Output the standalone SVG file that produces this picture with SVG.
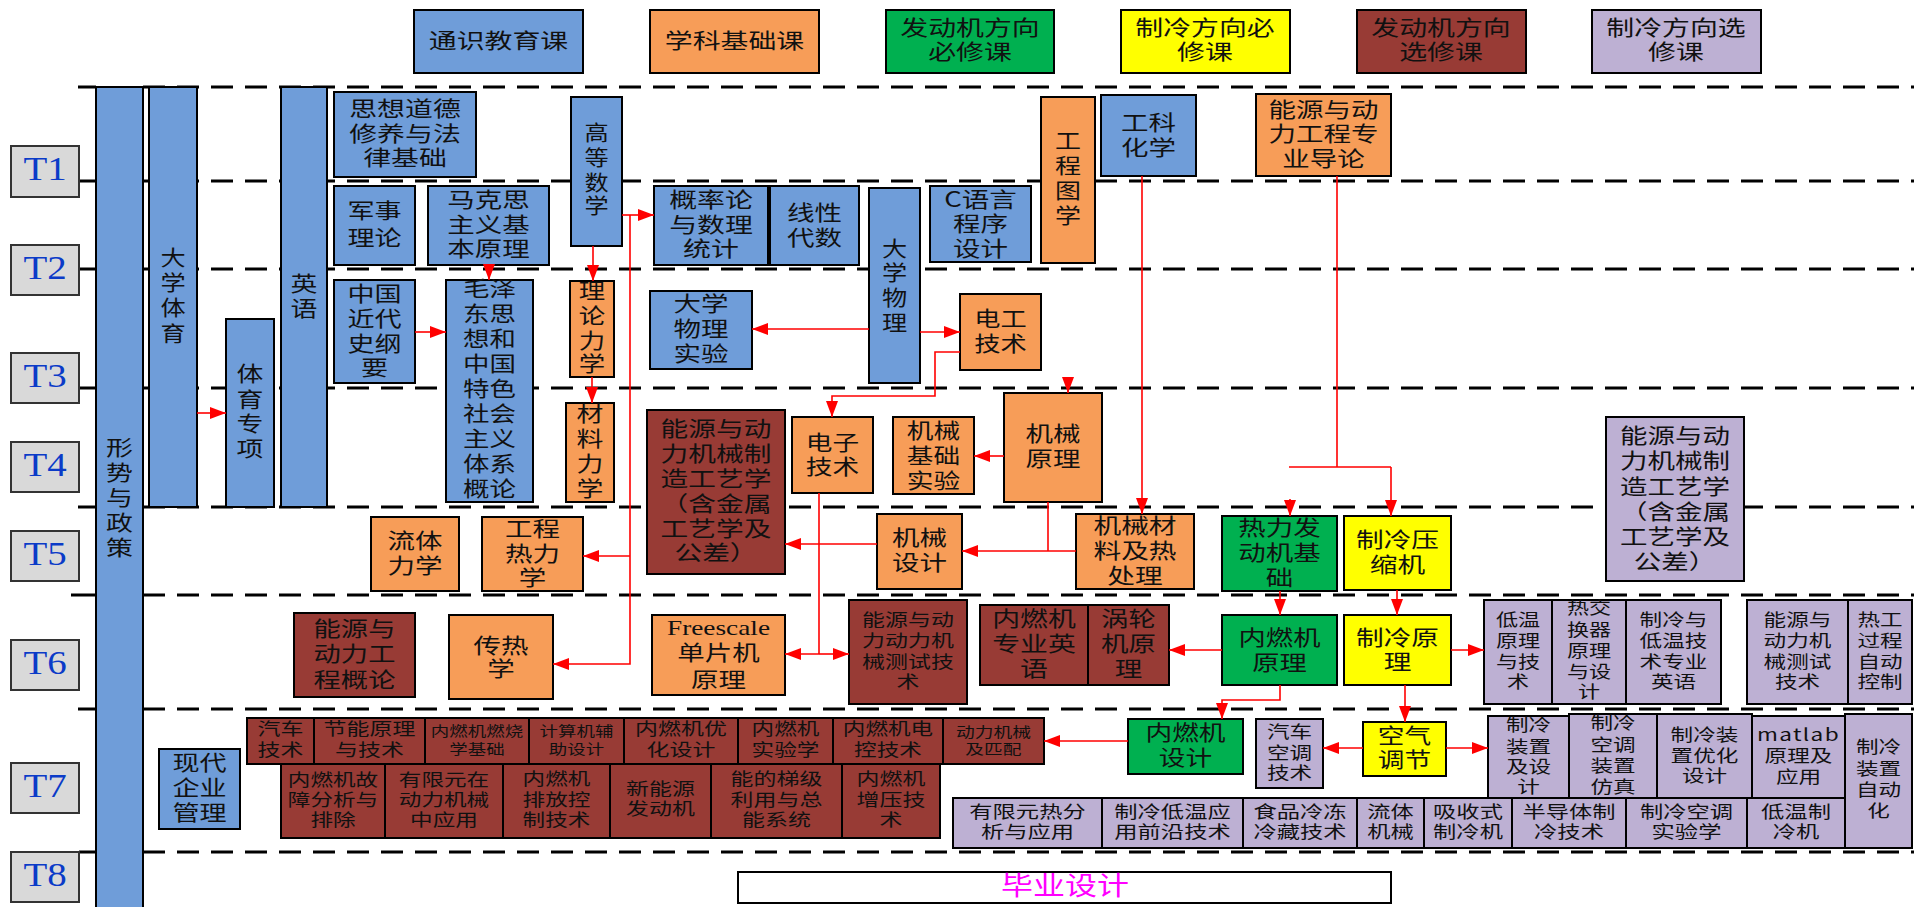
<svg xmlns="http://www.w3.org/2000/svg" width="1914" height="907" viewBox="0 0 1914 907">
<style>
rect{stroke:#000;stroke-width:2}
.bl{fill:#6F9DD9}.or{fill:#F79D58}.gr{fill:#00B050}.ye{fill:#FFFF00}.br{fill:#983B35}.lv{fill:#BDB0D3}.gy{fill:#D9D9D9;stroke:#333}.wh{fill:#fff}
text{font-family:"Noto Sans CJK SC","Noto Sans",sans-serif;fill:#111;text-anchor:middle}
.f21{font-size:21px}.f17{font-size:17px}.f14{font-size:14px}
.tl{font-family:"Liberation Serif",serif;font-size:33px;fill:#0B3BC8}
.fs{font-family:"Liberation Serif",serif;font-size:21px}
.dash{stroke:#000;stroke-width:3;stroke-dasharray:22 12;fill:none}
.sol{stroke:#000;stroke-width:3;fill:none}
.cn{stroke:#FF0000;stroke-width:1.6;fill:none;marker-end:url(#ah)}
.cl{stroke:#FF0000;stroke-width:1.6;fill:none}
</style>
<defs>
<marker id="ah" viewBox="0 0 16 12" markerWidth="16" markerHeight="12" markerUnits="userSpaceOnUse" refX="16" refY="6" orient="auto"><path d="M0,0 L16,6 L0,12 z" fill="#FF0000"/></marker>
</defs>
<g id="gridlines">
<path class="dash" d="M143,87H1914M143,181H1914M143,269H1914M143,388H1914M143,507H1914M143,595H1914M143,709H1914M143,852H1914"/>
<path class="sol" d="M78,87H96M79,181H96M79,269H96M79,388H96M78,507H96M71,595H96M78,709H96M79,852H96"/>
</g>
<g id="legend">
<g id="leg1"><rect class="bl" x="414" y="10" width="169" height="63"/><text class="f21" transform="translate(498.5 0) scale(1.33 1)"><tspan x="0" y="48">通识教育课</tspan></text></g>
<g id="leg2"><rect class="or" x="650" y="10" width="169" height="63"/><text class="f21" transform="translate(734.5 0) scale(1.33 1)"><tspan x="0" y="48">学科基础课</tspan></text></g>
<g id="leg3"><rect class="gr" x="886" y="10" width="168" height="63"/><text class="f21" transform="translate(970 0) scale(1.33 1)"><tspan x="0" y="35">发动机方向</tspan><tspan x="0" y="59">必修课</tspan></text></g>
<g id="leg4"><rect class="ye" x="1121" y="10" width="169" height="63"/><text class="f21" transform="translate(1205 0) scale(1.33 1)"><tspan x="0" y="35">制冷方向必</tspan><tspan x="0" y="59">修课</tspan></text></g>
<g id="leg5"><rect class="br" x="1357" y="10" width="169" height="63"/><text class="f21" transform="translate(1441 0) scale(1.33 1)"><tspan x="0" y="35">发动机方向</tspan><tspan x="0" y="59">选修课</tspan></text></g>
<g id="leg6"><rect class="lv" x="1592" y="10" width="169" height="63"/><text class="f21" transform="translate(1676 0) scale(1.33 1)"><tspan x="0" y="35">制冷方向选</tspan><tspan x="0" y="59">修课</tspan></text></g>
</g>
<g id="terms">
<g id="T1"><rect class="gy" x="11" y="146" width="68" height="51"/><text class="tl" transform="translate(45 0) scale(1.18 1)"><tspan x="0" y="180">T1</tspan></text></g>
<g id="T2"><rect class="gy" x="11" y="245" width="68" height="50"/><text class="tl" transform="translate(45 0) scale(1.18 1)"><tspan x="0" y="279">T2</tspan></text></g>
<g id="T3"><rect class="gy" x="11" y="353" width="68" height="50"/><text class="tl" transform="translate(45 0) scale(1.18 1)"><tspan x="0" y="387">T3</tspan></text></g>
<g id="T4"><rect class="gy" x="11" y="442" width="68" height="50"/><text class="tl" transform="translate(45 0) scale(1.18 1)"><tspan x="0" y="476">T4</tspan></text></g>
<g id="T5"><rect class="gy" x="11" y="531" width="68" height="50"/><text class="tl" transform="translate(45 0) scale(1.18 1)"><tspan x="0" y="565">T5</tspan></text></g>
<g id="T6"><rect class="gy" x="11" y="640" width="68" height="50"/><text class="tl" transform="translate(45 0) scale(1.18 1)"><tspan x="0" y="674">T6</tspan></text></g>
<g id="T7"><rect class="gy" x="11" y="763" width="68" height="50"/><text class="tl" transform="translate(45 0) scale(1.18 1)"><tspan x="0" y="797">T7</tspan></text></g>
<g id="T8"><rect class="gy" x="11" y="852" width="68" height="50"/><text class="tl" transform="translate(45 0) scale(1.18 1)"><tspan x="0" y="886">T8</tspan></text></g>
</g>
<g id="nodes">
<g id="n-xszc"><rect class="bl" x="96" y="87" width="47" height="830"/><text class="f21" transform="translate(119.5 0) scale(1.28 1)"><tspan x="0" y="455">形</tspan><tspan x="0" y="480">势</tspan><tspan x="0" y="505">与</tspan><tspan x="0" y="530">政</tspan><tspan x="0" y="555">策</tspan></text></g>
<g id="n-dxty"><rect class="bl" x="149" y="87" width="48" height="420"/><text class="f21" transform="translate(173 0) scale(1.2 1)"><tspan x="0" y="265">大</tspan><tspan x="0" y="290">学</tspan><tspan x="0" y="315">体</tspan><tspan x="0" y="341">育</tspan></text></g>
<g id="n-tyzx"><rect class="bl" x="226" y="319" width="48" height="188"/><text class="f21" transform="translate(250 0) scale(1.28 1)"><tspan x="0" y="381">体</tspan><tspan x="0" y="407">育</tspan><tspan x="0" y="431">专</tspan><tspan x="0" y="456">项</tspan></text></g>
<g id="n-yy"><rect class="bl" x="281" y="87" width="46" height="420"/><text class="f21" transform="translate(304 0) scale(1.28 1)"><tspan x="0" y="291">英</tspan><tspan x="0" y="316">语</tspan></text></g>
<g id="n-sxdd"><rect class="bl" x="334" y="92" width="142" height="85"/><text class="f21" transform="translate(405 0) scale(1.33 1)"><tspan x="0" y="116">思想道德</tspan><tspan x="0" y="141">修养与法</tspan><tspan x="0" y="165">律基础</tspan></text></g>
<g id="n-jsll"><rect class="bl" x="334" y="186" width="81" height="79"/><text class="f21" transform="translate(374.5 0) scale(1.29 1)"><tspan x="0" y="218">军事</tspan><tspan x="0" y="245">理论</tspan></text></g>
<g id="n-mks"><rect class="bl" x="428" y="186" width="121" height="79"/><text class="f21" transform="translate(488.5 0) scale(1.31 1)"><tspan x="0" y="207">马克思</tspan><tspan x="0" y="232">主义基</tspan><tspan x="0" y="256">本原理</tspan></text></g>
<g id="n-zgjd"><rect class="bl" x="334" y="280" width="81" height="103"/><text class="f21" transform="translate(374.5 0) scale(1.29 1)"><tspan x="0" y="301">中国</tspan><tspan x="0" y="326">近代</tspan><tspan x="0" y="351">史纲</tspan><tspan x="0" y="375">要</tspan></text></g>
<g id="n-mzd"><rect class="bl" x="446" y="280" width="87" height="222"/><text class="f21" transform="translate(489.5 0) scale(1.26 1)"><tspan x="0" y="296">毛泽</tspan><tspan x="0" y="321">东思</tspan><tspan x="0" y="346">想和</tspan><tspan x="0" y="371">中国</tspan><tspan x="0" y="396">特色</tspan><tspan x="0" y="421">社会</tspan><tspan x="0" y="446">主义</tspan><tspan x="0" y="471">体系</tspan><tspan x="0" y="496">概论</tspan></text></g>
<g id="n-gdsx"><rect class="bl" x="571" y="97" width="51" height="149"/><text class="f21" transform="translate(596.5 0) scale(1.15 1)"><tspan x="0" y="140">高</tspan><tspan x="0" y="165">等</tspan><tspan x="0" y="190">数</tspan><tspan x="0" y="213">学</tspan></text></g>
<g id="n-gll"><rect class="bl" x="654" y="186" width="114" height="79"/><text class="f21" transform="translate(711 0) scale(1.33 1)"><tspan x="0" y="207">概率论</tspan><tspan x="0" y="232">与数理</tspan><tspan x="0" y="256">统计</tspan></text></g>
<g id="n-xxds"><rect class="bl" x="770" y="186" width="89" height="79"/><text class="f21" transform="translate(814.5 0) scale(1.31 1)"><tspan x="0" y="220">线性</tspan><tspan x="0" y="245">代数</tspan></text></g>
<g id="n-dxwl"><rect class="bl" x="869" y="188" width="51" height="195"/><text class="f21" transform="translate(894.5 0) scale(1.2 1)"><tspan x="0" y="256">大</tspan><tspan x="0" y="280">学</tspan><tspan x="0" y="305">物</tspan><tspan x="0" y="330">理</tspan></text></g>
<g id="n-cyy"><rect class="bl" x="930" y="186" width="101" height="76"/><text class="f21" transform="translate(980.5 0) scale(1.31 1)"><tspan x="0" y="207">C语言</tspan><tspan x="0" y="231">程序</tspan><tspan x="0" y="256">设计</tspan></text></g>
<g id="n-dxwlsy"><rect class="bl" x="650" y="291" width="102" height="78"/><text class="f21" transform="translate(701 0) scale(1.31 1)"><tspan x="0" y="311">大学</tspan><tspan x="0" y="336">物理</tspan><tspan x="0" y="361">实验</tspan></text></g>
<g id="n-gkhx"><rect class="bl" x="1101" y="95" width="95" height="81"/><text class="f21" transform="translate(1148.5 0) scale(1.31 1)"><tspan x="0" y="130">工科</tspan><tspan x="0" y="155">化学</tspan></text></g>
<g id="n-xdqy"><rect class="bl" x="159" y="749" width="81" height="80"/><text class="f21" transform="translate(199.5 0) scale(1.29 1)"><tspan x="0" y="770">现代</tspan><tspan x="0" y="795">企业</tspan><tspan x="0" y="820">管理</tspan></text></g>
<g id="n-llxl"><rect class="or" x="570" y="281" width="44" height="96"/><text class="f21" transform="translate(592 0) scale(1.26 1)"><tspan x="0" y="298">理</tspan><tspan x="0" y="323">论</tspan><tspan x="0" y="348">力</tspan><tspan x="0" y="371">学</tspan></text></g>
<g id="n-clxl"><rect class="or" x="566" y="403" width="48" height="99"/><text class="f21" transform="translate(590 0) scale(1.28 1)"><tspan x="0" y="421">材</tspan><tspan x="0" y="446">料</tspan><tspan x="0" y="471">力</tspan><tspan x="0" y="496">学</tspan></text></g>
<g id="n-gctx"><rect class="or" x="1041" y="97" width="54" height="166"/><text class="f21" transform="translate(1068 0) scale(1.24 1)"><tspan x="0" y="148">工</tspan><tspan x="0" y="173">程</tspan><tspan x="0" y="198">图</tspan><tspan x="0" y="223">学</tspan></text></g>
<g id="n-zydl"><rect class="or" x="1256" y="94" width="135" height="82"/><text class="f21" transform="translate(1323.5 0) scale(1.31 1)"><tspan x="0" y="117">能源与动</tspan><tspan x="0" y="141">力工程专</tspan><tspan x="0" y="166">业导论</tspan></text></g>
<g id="n-dgjs"><rect class="or" x="960" y="294" width="81" height="76"/><text class="f21" transform="translate(1000.5 0) scale(1.25 1)"><tspan x="0" y="326">电工</tspan><tspan x="0" y="351">技术</tspan></text></g>
<g id="n-dzjs"><rect class="or" x="792" y="417" width="81" height="76"/><text class="f21" transform="translate(832.5 0) scale(1.27 1)"><tspan x="0" y="450">电子</tspan><tspan x="0" y="474">技术</tspan></text></g>
<g id="n-jcsy"><rect class="or" x="893" y="417" width="81" height="77"/><text class="f21" transform="translate(933.5 0) scale(1.27 1)"><tspan x="0" y="438">机械</tspan><tspan x="0" y="463">基础</tspan><tspan x="0" y="488">实验</tspan></text></g>
<g id="n-jxyl"><rect class="or" x="1004" y="393" width="98" height="109"/><text class="f21" transform="translate(1053 0) scale(1.31 1)"><tspan x="0" y="441">机械</tspan><tspan x="0" y="466">原理</tspan></text></g>
<g id="n-ltlx"><rect class="or" x="371" y="517" width="88" height="74"/><text class="f21" transform="translate(415 0) scale(1.31 1)"><tspan x="0" y="548">流体</tspan><tspan x="0" y="573">力学</tspan></text></g>
<g id="n-gcrlx"><rect class="or" x="482" y="517" width="101" height="74"/><text class="f21" transform="translate(532.5 0) scale(1.31 1)"><tspan x="0" y="536">工程</tspan><tspan x="0" y="561">热力</tspan><tspan x="0" y="585">学</tspan></text></g>
<g id="n-jxsj"><rect class="or" x="877" y="514" width="85" height="75"/><text class="f21" transform="translate(919.5 0) scale(1.31 1)"><tspan x="0" y="545">机械</tspan><tspan x="0" y="570">设计</tspan></text></g>
<g id="n-jxcl"><rect class="or" x="1076" y="514" width="118" height="75"/><text class="f21" transform="translate(1135 0) scale(1.32 1)"><tspan x="0" y="533">机械材</tspan><tspan x="0" y="558">料及热</tspan><tspan x="0" y="583">处理</tspan></text></g>
<g id="n-crx"><rect class="or" x="449" y="615" width="104" height="84"/><text class="f21" transform="translate(501 0) scale(1.31 1)"><tspan x="0" y="653">传热</tspan><tspan x="0" y="676">学</tspan></text></g>
<g id="n-fsc"><rect class="or" x="652" y="615" width="133" height="80"/><text class="fs" transform="translate(718.5 0) scale(1.3 1)"><tspan x="0" y="635">Freescale</tspan></text><text class="f21" transform="translate(718.5 0) scale(1.31 1)"><tspan x="0" y="660">单片机</tspan><tspan x="0" y="687">原理</tspan></text></g>
<g id="n-rlfdj"><rect class="gr" x="1222" y="516" width="115" height="75"/><text class="f21" transform="translate(1279.5 0) scale(1.31 1)"><tspan x="0" y="535">热力发</tspan><tspan x="0" y="560">动机基</tspan><tspan x="0" y="585">础</tspan></text></g>
<g id="n-nrjyl"><rect class="gr" x="1222" y="615" width="115" height="70"/><text class="f21" transform="translate(1279.5 0) scale(1.3 1)"><tspan x="0" y="645">内燃机</tspan><tspan x="0" y="670">原理</tspan></text></g>
<g id="n-nrjsj"><rect class="gr" x="1128" y="719" width="115" height="55"/><text class="f21" transform="translate(1185.5 0) scale(1.27 1)"><tspan x="0" y="740">内燃机</tspan><tspan x="0" y="765">设计</tspan></text></g>
<g id="n-zlysj"><rect class="ye" x="1344" y="516" width="107" height="74"/><text class="f21" transform="translate(1397.5 0) scale(1.32 1)"><tspan x="0" y="547">制冷压</tspan><tspan x="0" y="572">缩机</tspan></text></g>
<g id="n-zlyl"><rect class="ye" x="1344" y="615" width="107" height="70"/><text class="f21" transform="translate(1397.5 0) scale(1.32 1)"><tspan x="0" y="645">制冷原</tspan><tspan x="0" y="669">理</tspan></text></g>
<g id="n-kqtj"><rect class="ye" x="1363" y="722" width="83" height="54"/><text class="f21" transform="translate(1404.5 0) scale(1.27 1)"><tspan x="0" y="743">空气</tspan><tspan x="0" y="767">调节</tspan></text></g>
<g id="n-zzgy1"><rect class="br" x="647" y="410" width="138" height="164"/><text class="f21" transform="translate(716 0) scale(1.32 1)"><tspan x="0" y="436">能源与动</tspan><tspan x="0" y="461">力机械制</tspan><tspan x="0" y="486">造工艺学</tspan><tspan x="0" y="511">（含金属</tspan><tspan x="0" y="536">工艺学及</tspan><tspan x="0" y="560">公差）</tspan></text></g>
<g id="n-zzgy2"><rect class="lv" x="1606" y="417" width="138" height="164"/><text class="f21" transform="translate(1675 0) scale(1.31 1)"><tspan x="0" y="443">能源与动</tspan><tspan x="0" y="468">力机械制</tspan><tspan x="0" y="494">造工艺学</tspan><tspan x="0" y="519">（含金属</tspan><tspan x="0" y="544">工艺学及</tspan><tspan x="0" y="569">公差）</tspan></text></g>
<g id="n-nydlgc"><rect class="br" x="294" y="613" width="121" height="84"/><text class="f21" transform="translate(354.5 0) scale(1.3 1)"><tspan x="0" y="636">能源与</tspan><tspan x="0" y="661">动力工</tspan><tspan x="0" y="687">程概论</tspan></text></g>
<g id="n-nycs"><rect class="br" x="849" y="600" width="118" height="104"/><text class="f17" transform="translate(908 0) scale(1.35 1)"><tspan x="0" y="626">能源与动</tspan><tspan x="0" y="647">力动力机</tspan><tspan x="0" y="668">械测试技</tspan><tspan x="0" y="688">术</tspan></text></g>
<g id="n-nrjzy"><rect class="br" x="980" y="605" width="108" height="80"/><text class="f21" transform="translate(1034 0) scale(1.33 1)"><tspan x="0" y="626">内燃机</tspan><tspan x="0" y="651">专业英</tspan><tspan x="0" y="676">语</tspan></text></g>
<g id="n-wljyl"><rect class="br" x="1088" y="605" width="81" height="80"/><text class="f21" transform="translate(1128.5 0) scale(1.31 1)"><tspan x="0" y="626">涡轮</tspan><tspan x="0" y="651">机原</tspan><tspan x="0" y="676">理</tspan></text></g>
<g id="n-dwyl"><rect class="lv" x="1484" y="600" width="68" height="104"/><text class="f17" transform="translate(1518 0) scale(1.3 1)"><tspan x="0" y="626">低温</tspan><tspan x="0" y="647">原理</tspan><tspan x="0" y="668">与技</tspan><tspan x="0" y="688">术</tspan></text></g>
<g id="n-rjhq"><rect class="lv" x="1552" y="600" width="74" height="104"/><text class="f17" transform="translate(1589 0) scale(1.3 1)"><tspan x="0" y="614">热交</tspan><tspan x="0" y="636">换器</tspan><tspan x="0" y="657">原理</tspan><tspan x="0" y="678">与设</tspan><tspan x="0" y="698">计</tspan></text></g>
<g id="n-zlydw"><rect class="lv" x="1626" y="600" width="95" height="104"/><text class="f17" transform="translate(1673.5 0) scale(1.33 1)"><tspan x="0" y="626">制冷与</tspan><tspan x="0" y="647">低温技</tspan><tspan x="0" y="668">术专业</tspan><tspan x="0" y="688">英语</tspan></text></g>
<g id="n-nydlcs"><rect class="lv" x="1747" y="600" width="101" height="104"/><text class="f17" transform="translate(1797.5 0) scale(1.33 1)"><tspan x="0" y="626">能源与</tspan><tspan x="0" y="647">动力机</tspan><tspan x="0" y="668">械测试</tspan><tspan x="0" y="688">技术</tspan></text></g>
<g id="n-rggc"><rect class="lv" x="1848" y="600" width="64" height="104"/><text class="f17" transform="translate(1880 0) scale(1.33 1)"><tspan x="0" y="626">热工</tspan><tspan x="0" y="647">过程</tspan><tspan x="0" y="668">自动</tspan><tspan x="0" y="688">控制</tspan></text></g>
<g id="n-qckt"><rect class="lv" x="1256" y="719" width="67" height="69"/><text class="f17" transform="translate(1289.5 0) scale(1.33 1)"><tspan x="0" y="738">汽车</tspan><tspan x="0" y="759">空调</tspan><tspan x="0" y="779">技术</tspan></text></g>
<g id="n-zlzzsj"><rect class="lv" x="1488" y="716" width="81" height="82"/><text class="f17" transform="translate(1528.5 0) scale(1.33 1)"><tspan x="0" y="731">制冷</tspan><tspan x="0" y="753">装置</tspan><tspan x="0" y="773">及设</tspan><tspan x="0" y="793">计</tspan></text></g>
<g id="n-zlktfz"><rect class="lv" x="1569" y="714" width="88" height="84"/><text class="f17" transform="translate(1613 0) scale(1.33 1)"><tspan x="0" y="729">制冷</tspan><tspan x="0" y="751">空调</tspan><tspan x="0" y="772">装置</tspan><tspan x="0" y="793">仿真</tspan></text></g>
<g id="n-zlzzyh"><rect class="lv" x="1657" y="714" width="95" height="84"/><text class="f17" transform="translate(1704.5 0) scale(1.33 1)"><tspan x="0" y="741">制冷装</tspan><tspan x="0" y="762">置优化</tspan><tspan x="0" y="782">设计</tspan></text></g>
<g id="n-matlab"><rect class="lv" x="1752" y="716" width="93" height="82"/><text class="f17" transform="translate(1798.5 0) scale(1.33 1)"><tspan x="0" y="741" letter-spacing="1">matlab</tspan><tspan x="0" y="762">原理及</tspan><tspan x="0" y="783">应用</tspan></text></g>
<g id="n-zlzzzdh"><rect class="lv" x="1845" y="714" width="67" height="134"/><text class="f17" transform="translate(1878.5 0) scale(1.33 1)"><tspan x="0" y="753">制冷</tspan><tspan x="0" y="775">装置</tspan><tspan x="0" y="796">自动</tspan><tspan x="0" y="817">化</tspan></text></g>
<g id="n-yxyrfx"><rect class="lv" x="953" y="798" width="149" height="50"/><text class="f17" transform="translate(1027.5 0) scale(1.37 1)"><tspan x="0" y="818">有限元热分</tspan><tspan x="0" y="838">析与应用</tspan></text></g>
<g id="n-zldwyy"><rect class="lv" x="1102" y="798" width="141" height="50"/><text class="f17" transform="translate(1172.5 0) scale(1.37 1)"><tspan x="0" y="818">制冷低温应</tspan><tspan x="0" y="838">用前沿技术</tspan></text></g>
<g id="n-spld"><rect class="lv" x="1243" y="798" width="114" height="50"/><text class="f17" transform="translate(1300 0) scale(1.37 1)"><tspan x="0" y="818">食品冷冻</tspan><tspan x="0" y="838">冷藏技术</tspan></text></g>
<g id="n-ltjx"><rect class="lv" x="1357" y="798" width="67" height="50"/><text class="f17" transform="translate(1390.5 0) scale(1.37 1)"><tspan x="0" y="818">流体</tspan><tspan x="0" y="838">机械</tspan></text></g>
<g id="n-xssl"><rect class="lv" x="1424" y="798" width="88" height="50"/><text class="f17" transform="translate(1468 0) scale(1.37 1)"><tspan x="0" y="818">吸收式</tspan><tspan x="0" y="838">制冷机</tspan></text></g>
<g id="n-bdt"><rect class="lv" x="1512" y="798" width="114" height="50"/><text class="f17" transform="translate(1569 0) scale(1.37 1)"><tspan x="0" y="818">半导体制</tspan><tspan x="0" y="838">冷技术</tspan></text></g>
<g id="n-zlktsy"><rect class="lv" x="1626" y="798" width="121" height="50"/><text class="f17" transform="translate(1686.5 0) scale(1.37 1)"><tspan x="0" y="818">制冷空调</tspan><tspan x="0" y="838">实验学</tspan></text></g>
<g id="n-dwzlj"><rect class="lv" x="1747" y="798" width="98" height="50"/><text class="f17" transform="translate(1796 0) scale(1.37 1)"><tspan x="0" y="818">低温制</tspan><tspan x="0" y="838">冷机</tspan></text></g>
<g id="n-qcjs"><rect class="br" x="247" y="718" width="67" height="46"/><text class="f17" transform="translate(280.5 0) scale(1.35 1)"><tspan x="0" y="735">汽车</tspan><tspan x="0" y="756">技术</tspan></text></g>
<g id="n-jnyl"><rect class="br" x="314" y="718" width="111" height="46"/><text class="f17" transform="translate(369.5 0) scale(1.35 1)"><tspan x="0" y="735">节能原理</tspan><tspan x="0" y="756">与技术</tspan></text></g>
<g id="n-nrjrs"><rect class="br" x="425" y="718" width="104" height="46"/><text class="f14" transform="translate(477 0) scale(1.32 1)"><tspan x="0" y="736">内燃机燃烧</tspan><tspan x="0" y="754">学基础</tspan></text></g>
<g id="n-jsjfz"><rect class="br" x="529" y="718" width="95" height="46"/><text class="f14" transform="translate(576.5 0) scale(1.32 1)"><tspan x="0" y="736">计算机辅</tspan><tspan x="0" y="754">助设计</tspan></text></g>
<g id="n-nrjyh"><rect class="br" x="624" y="718" width="114" height="46"/><text class="f17" transform="translate(681 0) scale(1.35 1)"><tspan x="0" y="735">内燃机优</tspan><tspan x="0" y="756">化设计</tspan></text></g>
<g id="n-nrjsy"><rect class="br" x="738" y="718" width="95" height="46"/><text class="f17" transform="translate(785.5 0) scale(1.33 1)"><tspan x="0" y="735">内燃机</tspan><tspan x="0" y="756">实验学</tspan></text></g>
<g id="n-nrjdk"><rect class="br" x="833" y="718" width="110" height="46"/><text class="f17" transform="translate(888 0) scale(1.33 1)"><tspan x="0" y="735">内燃机电</tspan><tspan x="0" y="756">控技术</tspan></text></g>
<g id="n-dljx"><rect class="br" x="943" y="718" width="101" height="46"/><text class="f14" transform="translate(993.5 0) scale(1.34 1)"><tspan x="0" y="737">动力机械</tspan><tspan x="0" y="754">及匹配</tspan></text></g>
<g id="n-nrjgz"><rect class="br" x="281" y="764" width="104" height="74"/><text class="f17" transform="translate(333 0) scale(1.33 1)"><tspan x="0" y="786">内燃机故</tspan><tspan x="0" y="806">障分析与</tspan><tspan x="0" y="826">排除</tspan></text></g>
<g id="n-yxyzdl"><rect class="br" x="385" y="764" width="118" height="74"/><text class="f17" transform="translate(444 0) scale(1.33 1)"><tspan x="0" y="786">有限元在</tspan><tspan x="0" y="806">动力机械</tspan><tspan x="0" y="826">中应用</tspan></text></g>
<g id="n-nrjpf"><rect class="br" x="503" y="764" width="107" height="74"/><text class="f17" transform="translate(556.5 0) scale(1.33 1)"><tspan x="0" y="785">内燃机</tspan><tspan x="0" y="806">排放控</tspan><tspan x="0" y="826">制技术</tspan></text></g>
<g id="n-xnyfdj"><rect class="br" x="610" y="764" width="101" height="74"/><text class="f17" transform="translate(660.5 0) scale(1.35 1)"><tspan x="0" y="795">新能源</tspan><tspan x="0" y="815">发动机</tspan></text></g>
<g id="n-ndtj"><rect class="br" x="711" y="764" width="131" height="74"/><text class="f17" transform="translate(776.5 0) scale(1.35 1)"><tspan x="0" y="785">能的梯级</tspan><tspan x="0" y="806">利用与总</tspan><tspan x="0" y="826">能系统</tspan></text></g>
<g id="n-nrjzy2"><rect class="br" x="842" y="764" width="98" height="74"/><text class="f17" transform="translate(891 0) scale(1.35 1)"><tspan x="0" y="785">内燃机</tspan><tspan x="0" y="806">增压技</tspan><tspan x="0" y="826">术</tspan></text></g>
<g id="n-bysj"><rect class="wh" x="738" y="872" width="653" height="31"/><text transform="translate(1065 0) scale(1.23 1)" style="font-size:26px;fill:#FF00FF"><tspan x="0" y="895">毕业设计</tspan></text></g>
</g>
<g id="connectors">
<path class="cn" d="M197,413H226"/>
<path class="cn" d="M415,332H446"/>
<path class="cn" d="M489,265V280"/>
<path class="cn" d="M593,246V281"/>
<path class="cn" d="M592,377V403"/>
<path class="cn" d="M622,215H654"/>
<path class="cn" d="M630,215V664H553"/>
<path class="cn" d="M630,556H583"/>
<path class="cn" d="M869,329H752"/>
<path class="cn" d="M920,332H960"/>
<path class="cn" d="M960,352H935V396H832V417"/>
<path class="cl" d="M819,493V654"/>
<path class="cn" d="M819,654H785"/>
<path class="cn" d="M819,654H849"/>
<path class="cn" d="M1004,456H974"/>
<path class="cn" d="M1068,377V393"/>
<path class="cl" d="M1048,502V551"/>
<path class="cn" d="M1076,551H962"/>
<path class="cn" d="M877,544H785"/>
<path class="cn" d="M1142,176V514"/>
<path class="cl" d="M1337,176V467M1289,467H1391"/>
<path class="cn" d="M1391,467V516"/>
<path class="cn" d="M1290,499V516"/>
<path class="cn" d="M1280,591V615"/>
<path class="cn" d="M1397,590V615"/>
<path class="cn" d="M1222,650H1169"/>
<path class="cn" d="M1280,685V700H1222V719"/>
<path class="cn" d="M1128,741H1044"/>
<path class="cn" d="M1405,685V722"/>
<path class="cn" d="M1363,748H1323"/>
<path class="cn" d="M1451,650H1484"/>
<path class="cn" d="M1446,748H1488"/>
</g>
</svg>
